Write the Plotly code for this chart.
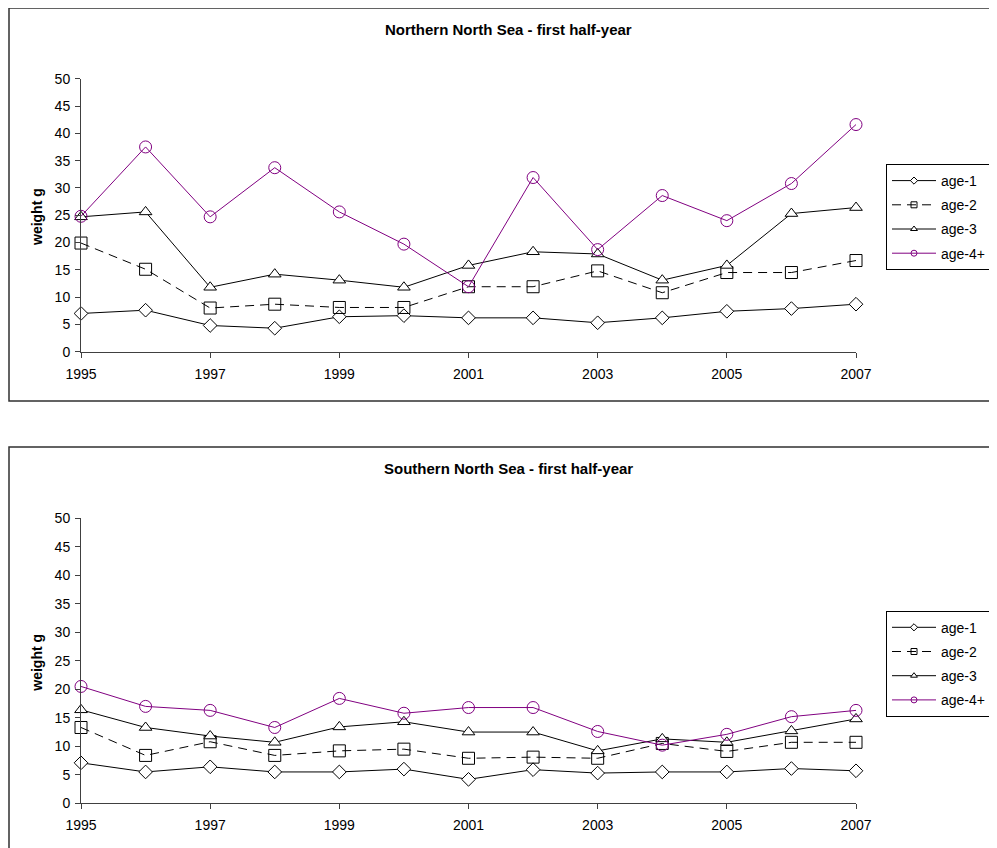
import plotly.graph_objects as go

years = list(range(1995, 2008))
series_names = ["age-1", "age-2", "age-3", "age-4+"]

# Northern North Sea - first half-year
north_age1 = [7.0, 7.6, 4.8, 4.3, 6.4, 6.6, 6.2, 6.2, 5.3, 6.2, 7.4, 7.9, 8.7]
north_age2 = [19.9, 15.1, 8.0, 8.7, 8.1, 8.1, 11.9, 11.9, 14.8, 10.8, 14.5, 14.5, 16.7]
north_age3 = [24.7, 25.6, 11.8, 14.2, 13.1, 11.8, 15.8, 18.3, 17.9, 13.1, 15.8, 25.3, 26.4]
north_age4 = [24.8, 37.5, 24.7, 33.7, 25.6, 19.7, 11.9, 31.9, 18.7, 28.6, 24.0, 30.8, 41.6]

# Southern North Sea - first half-year
south_age1 = [7.1, 5.5, 6.4, 5.5, 5.5, 6.0, 4.2, 5.9, 5.3, 5.5, 5.5, 6.1, 5.7]
south_age2 = [13.3, 8.4, 10.8, 8.4, 9.2, 9.5, 7.9, 8.1, 7.9, 10.5, 9.1, 10.7, 10.7]
south_age3 = [16.4, 13.3, 11.8, 10.7, 13.4, 14.3, 12.5, 12.5, 9.2, 11.3, 10.7, 12.7, 14.8]
south_age4 = [20.5, 17.0, 16.3, 13.3, 18.4, 15.8, 16.8, 16.8, 12.6, 10.2, 12.1, 15.2, 16.3]

titles = ["Northern North Sea - first half-year", "Southern North Sea - first half-year"]
y_title = "weight g"
x_ticks = [1995, 1997, 1999, 2001, 2003, 2005, 2007]
y_ticks = [0, 5, 10, 15, 20, 25, 30, 35, 40, 45, 50]

OFF = 8  # page body margin offset
W, H = 997, 848
FONT = "Liberation Sans, Arial, sans-serif"
PURPLE = "#800080"

styles = [
    dict(symbol="diamond", size=10.5, fill="white", color="black", dash="solid", lsize=5.5),
    dict(symbol="square-open", size=12, fill=None, color="black", dash="9px,6px", lsize=6),
    dict(symbol="triangle-up", size=11, fill="white", color="black", dash="solid", lsize=6),
    dict(symbol="circle-open", size=12, fill=None, color=PURPLE, dash="solid", lsize=6),
]

def px_x(p):
    return (p - OFF) / W

def px_y(p):
    return 1 - (p - OFF) / H

fig = go.Figure()

panels = [
    dict(data=[north_age1, north_age2, north_age3, north_age4], xa="x", ya="y", legend="legend"),
    dict(data=[south_age1, south_age2, south_age3, south_age4], xa="x2", ya="y2", legend="legend2"),
]

for pi, panel in enumerate(panels):
    for si, vals in enumerate(panel["data"]):
        st = styles[si]
        mk = dict(symbol=st["symbol"], size=st["size"], color=st["fill"] if st["fill"] else st["color"],
                  line=dict(color=st["color"], width=1))
        fig.add_trace(go.Scatter(
            x=years, y=vals, mode="lines+markers", name=series_names[si],
            line=dict(color=st["color"], width=1, dash=st["dash"]),
            marker=mk, xaxis=panel["xa"], yaxis=panel["ya"], showlegend=False,
            cliponaxis=False, hoverinfo="skip"))
    # legend entries (small markers, like the reference legend)
    for si in range(4):
        st = styles[si]
        mk = dict(symbol=st["symbol"], size=st["lsize"], color=st["fill"] if st["fill"] else st["color"],
                  line=dict(color=st["color"], width=1))
        fig.add_trace(go.Scatter(
            x=[None], y=[None], mode="lines+markers", name=series_names[si],
            line=dict(color=st["color"], width=1, dash=st["dash"]),
            marker=mk, xaxis=panel["xa"], yaxis=panel["ya"], showlegend=True,
            legend=panel["legend"], legendgroup=f"g{pi}{si}"))

axis_common = dict(showline=True, linecolor="#404040", linewidth=1, ticks="outside", ticklen=5,
                   tickcolor="#404040", showgrid=False, zeroline=False,
                   tickfont=dict(family=FONT, size=14, color="black"), fixedrange=True)

# pixel geometry (page pixels)
x_left, x_right = 81, 856
top_y0, top_y50 = 351.7, 78.7
bot_y0, bot_y50 = 803.3, 518.3

legend_common = dict(xanchor="left", yanchor="top", bordercolor="black", borderwidth=1,
                     bgcolor="white", font=dict(family=FONT, size=14, color="black"),
                     tracegroupgap=3, itemwidth=44)

fig.update_layout(
    width=W, height=H, autosize=False,
    margin=dict(l=0, r=0, t=0, b=0, autoexpand=False),
    paper_bgcolor="white", plot_bgcolor="white",
    xaxis=dict(domain=[px_x(x_left), px_x(x_right)], range=[1995, 2007], tickvals=x_ticks,
               anchor="y", **axis_common),
    yaxis=dict(domain=[px_y(top_y0), px_y(top_y50)], range=[0, 50], tickvals=y_ticks,
               anchor="x", **axis_common),
    xaxis2=dict(domain=[px_x(x_left), px_x(x_right)], range=[1995, 2007], tickvals=x_ticks,
                anchor="y2", **axis_common),
    yaxis2=dict(domain=[px_y(bot_y0), px_y(bot_y50)], range=[0, 50], tickvals=y_ticks,
                anchor="x2", **axis_common),
    legend=dict(x=px_x(886), y=px_y(164), **legend_common),
    legend2=dict(x=px_x(886), y=px_y(610.7), **legend_common),
)

for ax in ["xaxis", "xaxis2"]:
    fig.layout[ax].ticklabelstandoff = 4
for ax in ["yaxis", "yaxis2"]:
    fig.layout[ax].ticklabelstandoff = 2

# chart frames
fig.add_shape(type="rect", xref="paper", yref="paper", x0=px_x(9), x1=1.05,
              y0=px_y(401), y1=px_y(8), line=dict(color="#303030", width=1.5), layer="below")
fig.add_shape(type="rect", xref="paper", yref="paper", x0=px_x(9), x1=1.05,
              y0=-0.05, y1=px_y(447), line=dict(color="#303030", width=1.5), layer="below")

# titles
for t, ty in zip(titles, [29, 468.3]):
    fig.add_annotation(text=f"<b>{t}</b>", xref="paper", yref="paper", x=px_x(508), y=px_y(ty),
                       xanchor="center", yanchor="middle", showarrow=False,
                       font=dict(family=FONT, size=15, color="black"))
for ty in [217, 662.7]:
    fig.add_annotation(text=f"<b>{y_title}</b>", xref="paper", yref="paper", x=px_x(37), y=px_y(ty),
                       xanchor="center", yanchor="middle", showarrow=False, textangle=-90,
                       font=dict(family=FONT, size=14, color="black"))

fig.write_html("out.html")
